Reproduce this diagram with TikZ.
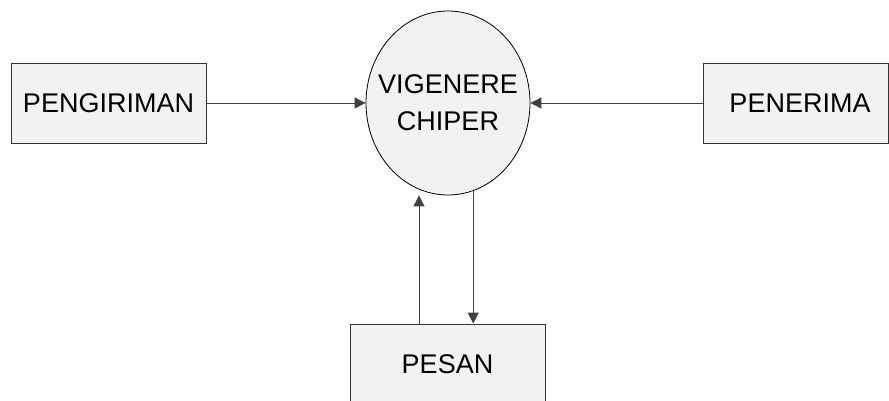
\documentclass[tikz,border=0pt]{standalone}
\usepackage{fontspec}
\setmainfont{Liberation Sans}
\usetikzlibrary{arrows.meta,shapes.geometric}
\begin{document}
\begin{tikzpicture}[x=1pt,y=-1pt,
  >={Triangle[length=11pt,width=11pt]},
  box/.style={draw=black!80, fill=black!5, line width=0.9pt, minimum width=195pt, minimum height=80pt, inner sep=0pt, font=\fontsize{27}{32}\selectfont},
  proc/.style={draw, ellipse, fill=black!5, line width=0.8pt, minimum width=164pt, minimum height=184pt, inner xsep=-20pt, inner ysep=0pt, align=center, font=\fontsize{27}{37}\selectfont},
  flow/.style={draw=black!75, line width=0.9pt}]
\clip (0,0) rectangle (889,401);
\node(1) at (108.5,103) [box]{PENGIRIMAN};
\node(2) at (448,103) [proc]{VIGENERE\\CHIPER};
\node(4) at (795.5,103) [box, minimum width=185pt]{\hspace*{9pt}PENERIMA};
\node(3) at (447.5,364) [box]{PESAN};
\draw[flow,->] (1) to (2);
\draw[flow,->] (4) to (2);
\draw[flow,->] ([xshift=-28.5pt]3.north) to ([xshift=-28.5pt]3.north |- 2.south);
\draw[flow,->] (2.-74) to (2.-74 |- 3.north);
\end{tikzpicture}
\end{document}
